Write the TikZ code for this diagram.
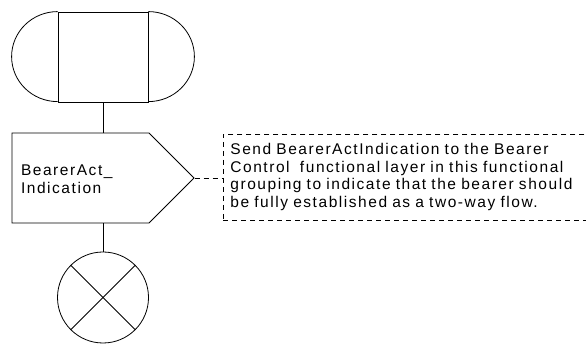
\documentclass[tikz,border=0pt]{standalone}
\usepackage{fontspec}
\setmainfont{Liberation Sans}[LetterSpace=10]
\usetikzlibrary{shapes.symbols}
\begin{document}
\begin{tikzpicture}[x=1pt, y=1pt, line width=0.8pt]
        \tikzstyle{term}=[draw, rectangle, minimum width=90, minimum height=90, inner sep=0pt];
        \tikzstyle{output}=[draw, signal, signal to=east, signal pointer angle=90, minimum width=182, minimum height=90, inner sep=0pt];
        \tikzstyle{stopsym}=[draw, circle, minimum size=91, inner sep=0pt];
        \tikzstyle{comment}=[draw, dashed, dash pattern=on 5pt off 4pt, rectangle, text width=362, minimum height=86, inner xsep=7pt, align=left, font=\fontsize{15.5}{17.8}\selectfont];

        \useasboundingbox (0,0) rectangle (586,345);
        \clip (0,0) rectangle (586,345);

        \node[term] (start) at (103,288) {};
        \draw (start.north west) arc[start angle=90, end angle=270, x radius=46, y radius=45];
        \draw (start.north east) arc[start angle=90, end angle=-90, x radius=46, y radius=45];

        \node[output] (send) at (80.5,167) {};
        \node[anchor=west, inner sep=0pt, font=\fontsize{15.5}{18}\selectfont] (sendtxt) at ([xshift=9, yshift=-3]send.west) {\begin{tabular}{@{}l@{}}BearerAct\char`\_\\Indication\end{tabular}};

        \node[stopsym] (stop) at (103,47.5) {};
        \draw (stop.north west) -- (stop.south east);
        \draw (stop.north east) -- (stop.south west);

        \node[comment, anchor=west] (note) at (223,168) {Send BearerActIndication to the Bearer\\Control\ \ functional layer in this functional\\grouping to indicate that the bearer should\\be fully established as a two-way flow.};

        \draw (start.south) -- (start.south |- send.north);
        \draw (stop.north |- send.south) -- (stop.north);
        \draw[dashed, dash pattern=on 5pt off 4pt] (send.east) -- (note.west |- send.east);
    \end{tikzpicture}
\end{document}
